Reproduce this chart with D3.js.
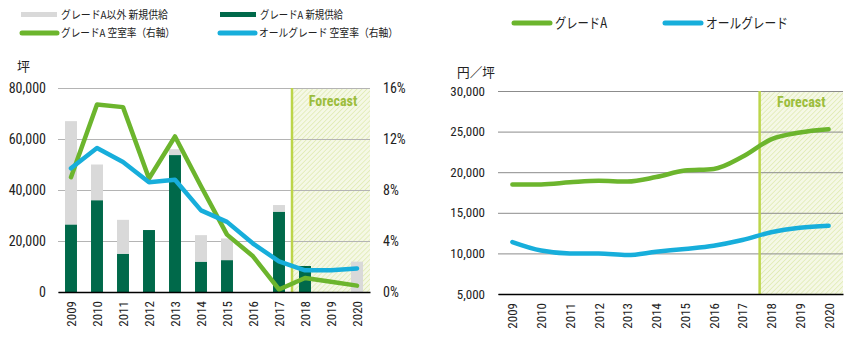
<!DOCTYPE html>
<html>
<head>
<meta charset="utf-8">
<script src="https://cdn.jsdelivr.net/npm/d3@7/dist/d3.min.js"></script>
<style>
  body { margin: 0; background: #fff; }
  svg { display: block; }
  .num { font-family: "Liberation Sans Narrow", "Roboto Condensed", "Liberation Sans", sans-serif; fill: #222; }
  .jp { font-family: "Noto Sans CJK JP", sans-serif; fill: #222; }
</style>
</head>
<body>
<svg id="chart" width="849" height="348"></svg>
<script>
// ---- data ----
const years = [2009, 2010, 2011, 2012, 2013, 2014, 2015, 2016, 2017, 2018, 2019, 2020];
// new supply (tsubo)
const supplyGradeA = [26500, 36000, 15000, 24300, 53700, 11900, 12500, 0, 31500, 10200, 0, 0];
const supplyOther  = [40500, 14000, 13300, 0, 2300, 10400, 8500, 0, 2600, 0, 0, 11900];
// vacancy rate (%), right axis
const vacancyGradeA = [9.0, 14.7, 14.5, 8.9, 12.2, 8.3, 4.5, 2.8, 0.2, 1.1, 0.8, 0.5];
const vacancyAll    = [9.7, 11.3, 10.2, 8.6, 8.8, 6.4, 5.5, 3.8, 2.4, 1.7, 1.7, 1.85];
// rent (yen / tsubo)
const rentGradeA = [18500, 18500, 18750, 18950, 18850, 19400, 20200, 20400, 21900, 24050, 24900, 25300];
const rentAll    = [11400, 10350, 10000, 10000, 9800, 10200, 10550, 10950, 11650, 12600, 13150, 13400];

const supplyTicks  = [0, 20000, 40000, 60000, 80000];
const vacancyTicks = [0, 4, 8, 12, 16];
const rentTicks    = [5000, 10000, 15000, 20000, 25000, 30000];

const legendLeft = [
  { label: "グレードA以外 新規供給", kind: "bar", color: "#d9d9d9" },
  { label: "グレードA 新規供給", kind: "bar", color: "#00694a" },
  { label: "グレードA 空室率（右軸）", kind: "line", color: "#6cb52d" },
  { label: "オールグレード 空室率（右軸）", kind: "line", color: "#17aedb" }
];
const legendRight = [
  { label: "グレードA", color: "#6cb52d" },
  { label: "オールグレード", color: "#17aedb" }
];

const C = {
  gray: "#d9d9d9", dark: "#00694a", green: "#6cb52d", blue: "#17aedb",
  grid: "#b4b4b4", forecastLine: "#bcd54a", forecastText: "#9cbd3c"
};

const svg = d3.select("#chart");
const fmt = d3.format(",");

// hatch for the forecast period
const defs = svg.append("defs");
const pat = defs.append("pattern")
  .attr("id", "hatch").attr("patternUnits", "userSpaceOnUse")
  .attr("width", 3.5).attr("height", 3.5)
  .attr("patternTransform", "rotate(45)");
pat.append("rect").attr("width", 3.5).attr("height", 3.5).attr("fill", "#f5f8e6");
pat.append("line").attr("x1", 0).attr("y1", 0).attr("x2", 0).attr("y2", 3.5)
  .attr("stroke", "#dde9ad").attr("stroke-width", 1.4);

// ================= left chart: supply + vacancy =================
const L = { left: 58, right: 370, top: 88, bottom: 292 };
const xL = d3.scaleBand().domain(years).range([L.left, L.right])
  .paddingInner(0.54).paddingOuter(0.27);
const yS = d3.scaleLinear().domain([0, 80000]).range([L.bottom, L.top]);
const yV = d3.scaleLinear().domain([0, 16]).range([L.bottom, L.top]);
const cxL = y => xL(y) + xL.bandwidth() / 2;

const gL = svg.append("g");
const fcL = cxL(2017) + xL.step() / 2;
gL.append("rect").attr("x", fcL).attr("y", L.top)
  .attr("width", L.right - fcL).attr("height", L.bottom - L.top)
  .attr("fill", "url(#hatch)");

// gridlines + left tick labels
gL.append("g")
  .attr("transform", `translate(${L.left},0)`)
  .call(d3.axisLeft(yS).tickValues(supplyTicks).tickFormat(fmt)
    .tickSize(-(L.right - L.left)).tickPadding(12))
  .call(g => g.select(".domain").remove())
  .call(g => g.selectAll("line").attr("stroke", C.grid).attr("stroke-width", 1))
  .call(g => g.selectAll("text").attr("class", "num").style("font-size", "14px"));

// right tick labels
gL.append("g")
  .attr("transform", `translate(${L.right},0)`)
  .call(d3.axisRight(yV).tickValues(vacancyTicks).tickFormat(d => d + "%")
    .tickSize(0).tickPadding(13))
  .call(g => g.select(".domain").remove())
  .call(g => g.selectAll("text").attr("class", "num").style("font-size", "14px"));

// forecast divider
gL.append("line").attr("x1", fcL).attr("x2", fcL).attr("y1", L.top).attr("y2", L.bottom)
  .attr("stroke", C.forecastLine).attr("stroke-width", 2.5);
gL.append("text").attr("class", "num")
  .attr("x", (fcL + L.right) / 2 + 2).attr("y", 106)
  .attr("text-anchor", "middle").style("font-size", "14px").style("font-weight", "bold")
  .style("fill", C.forecastText).text("Forecast");

// stacked bars
const barData = years.map((yr, i) => ({ yr, a: supplyGradeA[i], o: supplyOther[i] }));
gL.append("g").selectAll("rect").data(barData).join("rect")
  .attr("x", d => xL(d.yr)).attr("width", xL.bandwidth())
  .attr("y", d => yS(d.a)).attr("height", d => yS(0) - yS(d.a))
  .attr("fill", C.dark);
gL.append("g").selectAll("rect").data(barData).join("rect")
  .attr("x", d => xL(d.yr)).attr("width", xL.bandwidth())
  .attr("y", d => yS(d.a + d.o)).attr("height", d => yS(d.a) - yS(d.a + d.o))
  .attr("fill", C.gray);

// vacancy lines
const lineV = d3.line().x((d, i) => cxL(years[i])).y(d => yV(d));
[[vacancyGradeA, C.green], [vacancyAll, C.blue]].forEach(([vals, col]) => {
  gL.append("path").datum(vals).attr("d", lineV)
    .attr("fill", "none").attr("stroke", col).attr("stroke-width", 4.5)
    .attr("stroke-linejoin", "round").attr("stroke-linecap", "round");
});

// baseline + year labels
gL.append("g").attr("transform", `translate(0,${L.bottom})`)
  .call(d3.axisBottom(xL).tickSize(0))
  .call(g => g.select(".domain").attr("stroke", "#000").attr("stroke-width", 1.5))
  .call(g => g.selectAll("text").attr("class", "num").style("font-size", "13px")
    .attr("transform", "rotate(-90)").attr("x", -9).attr("y", 0).attr("dy", "0.35em")
    .style("text-anchor", "end"));

// unit label
svg.append("text").attr("class", "jp").attr("x", 17).attr("y", 71)
  .style("font-size", "13px").text("坪");

// legend (left)
const legPos = [[21, 15], [220, 15], [21, 33], [219, 33]];
const legW = [107, 83, 114, 139];
legendLeft.forEach((d, i) => {
  const [x, y] = legPos[i];
  if (d.kind === "bar") {
    svg.append("rect").attr("x", x).attr("y", y - 3).attr("width", 36).attr("height", 5).attr("fill", d.color);
  } else {
    svg.append("line").attr("x1", x + 1).attr("x2", x + 36).attr("y1", y).attr("y2", y)
      .attr("stroke", d.color).attr("stroke-width", 5).attr("stroke-linecap", "round");
  }
  svg.append("text").attr("class", "jp").attr("x", x + 40).attr("y", y + 4)
    .style("font-size", "11px").attr("textLength", legW[i]).attr("lengthAdjust", "spacingAndGlyphs")
    .text(d.label);
});

// ================= right chart: rent =================
const R = { left: 498, right: 843, top: 91, bottom: 294 };
const xR = d3.scalePoint().domain(years).range([R.left, R.right]).padding(0.5);
const yR = d3.scaleLinear().domain([5000, 30000]).range([R.bottom, R.top]);
const gR = svg.append("g");
const fcR = xR(2017) + xR.step() * 0.6;

gR.append("rect").attr("x", fcR).attr("y", R.top)
  .attr("width", R.right - fcR).attr("height", R.bottom - R.top)
  .attr("fill", "url(#hatch)");

gR.append("g")
  .attr("transform", `translate(${R.left},0)`)
  .call(d3.axisLeft(yR).tickValues(rentTicks).tickFormat(fmt)
    .tickSize(-(R.right - R.left)).tickPadding(13))
  .call(g => g.select(".domain").remove())
  .call(g => g.selectAll("line").attr("stroke", "#8c8c8c").attr("stroke-width", 1))
  .call(g => g.selectAll("text").attr("class", "num").style("font-size", "13px"));

gR.append("line").attr("x1", fcR).attr("x2", fcR).attr("y1", R.top).attr("y2", R.bottom)
  .attr("stroke", C.forecastLine).attr("stroke-width", 2.5);
gR.append("text").attr("class", "num")
  .attr("x", (fcR + R.right) / 2).attr("y", 107)
  .attr("text-anchor", "middle").style("font-size", "14px").style("font-weight", "bold")
  .style("fill", C.forecastText).text("Forecast");

const lineR = d3.line().x((d, i) => xR(years[i])).y(d => yR(d)).curve(d3.curveMonotoneX);
[[rentGradeA, C.green], [rentAll, C.blue]].forEach(([vals, col]) => {
  gR.append("path").datum(vals).attr("d", lineR)
    .attr("fill", "none").attr("stroke", col).attr("stroke-width", 4.5)
    .attr("stroke-linejoin", "round").attr("stroke-linecap", "round");
});

gR.append("g").attr("transform", `translate(0,${R.bottom})`)
  .call(d3.axisBottom(xR).tickSize(0))
  .call(g => g.select(".domain").attr("stroke", "#000").attr("stroke-width", 1.5))
  .call(g => g.selectAll("text").attr("class", "num").style("font-size", "13px")
    .attr("transform", "rotate(-90)").attr("x", -9).attr("y", 0).attr("dy", "0.35em")
    .style("text-anchor", "end"));

svg.append("text").attr("class", "jp").attr("x", 457).attr("y", 77)
  .style("font-size", "13px").attr("textLength", 38).attr("lengthAdjust", "spacingAndGlyphs")
  .text("円／坪");

// legend (right)
const legRPos = [[512, 23], [663, 23]];
const legRW = [52, 82];
legendRight.forEach((d, i) => {
  const [x, y] = legRPos[i];
  svg.append("line").attr("x1", x + 2).attr("x2", x + 38).attr("y1", y).attr("y2", y)
    .attr("stroke", d.color).attr("stroke-width", 5).attr("stroke-linecap", "round");
  svg.append("text").attr("class", "jp").attr("x", x + 43).attr("y", y + 5)
    .style("font-size", "14px").attr("textLength", legRW[i]).attr("lengthAdjust", "spacingAndGlyphs")
    .text(d.label);
});
</script>
</body>
</html>
